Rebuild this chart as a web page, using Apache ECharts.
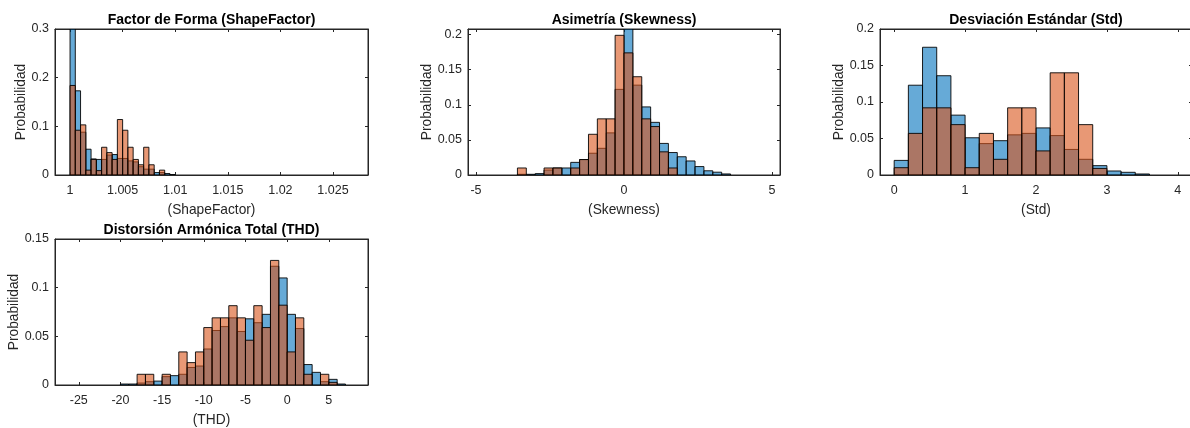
<!DOCTYPE html>
<html><head><meta charset="utf-8">
<script src="https://cdn.jsdelivr.net/npm/echarts@6/dist/echarts.min.js"></script>
<style>html,body{margin:0;padding:0;background:#fff}#c{width:1190px;height:428px}</style>
</head><body><div id="c"></div><script>
// ---------- data ----------
const titles = ['Factor de Forma (ShapeFactor)', 'Asimetría (Skewness)', 'Desviación Estándar (Std)', 'Distorsión Armónica Total (THD)'];
const xNames = ['(ShapeFactor)', '(Skewness)', '(Std)', '(THD)'];
const yName = 'Probabilidad';

const sfEdges = [1.0000,1.0005,1.0010,1.0015,1.0020,1.0025,1.0030,1.0035,1.0040,1.0045,1.0050,1.0055,1.0060,1.0065,1.0070,1.0075,1.0080,1.0085,1.0090,1.0095,1.0100];
const sfBlue   = [0.300,0.173,0.088,0.053,0.033,0.032,0.032,0.041,0.042,0.034,0.034,0.029,0.027,0.017,0.012,0.012,0.005,0.005,0.003,0.001];
const sfOrange = [0.184,0.092,0.103,0.010,0.032,0.009,0.057,0.046,0.032,0.114,0.092,0.057,0.032,0.021,0.057,0.021,0,0.010,0,0];
const sfXTicks = [1, 1.005, 1.01, 1.015, 1.02, 1.025];
const sfYTicks = [0, 0.1, 0.2, 0.3];

const skEdges = [-3.6,-3.3,-3.0,-2.7,-2.4,-2.1,-1.8,-1.5,-1.2,-0.9,-0.6,-0.3,0,0.3,0.6,0.9,1.2,1.5,1.8,2.1,2.4,2.7,3.0,3.3,3.6];
const skBlue   = [0.001,0.001,0.002,0.007,0.010,0.010,0.018,0.022,0.031,0.038,0.060,0.122,0.210,0.128,0.097,0.075,0.045,0.032,0.026,0.020,0.012,0.006,0.004,0.0015];
const skOrange = [0.010,0,0,0.010,0.010,0,0.010,0.022,0.058,0.080,0.080,0.199,0.174,0.140,0.080,0.069,0.033,0.010,0,0,0,0,0,0];
const skXTicks = [-5, 0, 5];
const skYTicks = [0, 0.05, 0.1, 0.15, 0.2];

const stdEdges = [0,0.2,0.4,0.6,0.8,1.0,1.2,1.4,1.6,1.8,2.0,2.2,2.4,2.6,2.8,3.0,3.2,3.4,3.6];
const stdBlue   = [0.020,0.123,0.175,0.136,0.082,0.051,0.043,0.047,0.055,0.057,0.0645,0.054,0.035,0.0215,0.0128,0.0055,0.0037,0.0014];
const stdOrange = [0.010,0.057,0.092,0.092,0.069,0.010,0.057,0.0215,0.092,0.092,0.033,0.140,0.140,0.069,0.009,0,0,0];
const stdXTicks = [0, 1, 2, 3, 4];
const stdYTicks = [0, 0.05, 0.1, 0.15, 0.2];

const thdEdges = [-20,-19,-18,-17,-16,-15,-14,-13,-12,-11,-10,-9,-8,-7,-6,-5,-4,-3,-2,-1,0,1,2,3,4,5,6,7];
const thdBlue   = [0.001,0.001,0.002,0.0034,0.004,0.0086,0.0096,0.011,0.018,0.0195,0.037,0.056,0.060,0.069,0.055,0.068,0.064,0.0726,0.122,0.110,0.0726,0.058,0.021,0.013,0.0034,0.0058,0.001];
const thdOrange = [0,0,0.011,0.011,0,0.011,0,0.034,0.023,0.034,0.059,0.069,0.069,0.0815,0.069,0.046,0.0815,0.059,0.128,0.082,0.034,0.069,0.011,0,0.011,0.0027,0];
const thdXTicks = [-25, -20, -15, -10, -5, 0, 5];
const thdYTicks = [0, 0.05, 0.1, 0.15];

// ---------- layout / style ----------
const FONT = "'Liberation Sans', Arial, Helvetica, sans-serif";
const AX = '#262626';
const BLUE = 'rgba(0,114,189,0.6)';
const ORANGE = 'rgba(217,83,25,0.6)';

const panels = [
  {grid:{left:55, top:29, width:313, height:146}, xMin:0.99857, xMax:1.02833, xTicks:sfXTicks, yMax:0.3, yTicks:sfYTicks, edges:sfEdges, blue:sfBlue, orange:sfOrange, yGap:22},
  {grid:{left:468, top:29, width:312, height:146}, xMin:-5.27, xMax:5.27, xTicks:skXTicks, yMax:0.208, yTicks:skYTicks, edges:skEdges, blue:skBlue, orange:skOrange, yGap:32},
  {grid:{left:880, top:29, width:312, height:146}, xMin:-0.2, xMax:4.2, xTicks:stdXTicks, yMax:0.2, yTicks:stdYTicks, edges:stdEdges, blue:stdBlue, orange:stdOrange, yGap:31},
  {grid:{left:55, top:239, width:313, height:146}, xMin:-27.85, xMax:9.7, xTicks:thdXTicks, yMax:0.15, yTicks:thdYTicks, edges:thdEdges, blue:thdBlue, orange:thdOrange, yGap:31}
];

const grids = [], xAxes = [], yAxes = [], series = [], graphics = [];
const line = {show:true, onZero:false, lineStyle:{color:AX, width:1}};

function hist(edges, values, color, xi, yi) {
  return {
    type:'custom', xAxisIndex:xi, yAxisIndex:yi, silent:true, clip:true,
    encode:{x:[0,1], y:2},
    data: values.map((v,i) => [edges[i], edges[i+1], v]),
    renderItem(params, api) {
      const y = api.value(2);
      if (!(y > 0)) return null;
      const p0 = api.coord([api.value(0), 0]);
      const p1 = api.coord([api.value(1), y]);
      const top = Math.max(p1[1], params.coordSys.y);
      return {type:'rect', shape:{x:p0[0], y:top, width:p1[0]-p0[0], height:p0[1]-top},
        style:{fill:color, stroke:'rgba(0,0,0,0.88)', lineWidth:1}};
    }
  };
}

panels.forEach((p, i) => {
  grids.push(Object.assign({show:true, borderColor:AX, borderWidth:1, backgroundColor:'#fff', containLabel:false, outerBoundsMode:'none'}, p.grid));
  xAxes.push({gridIndex:i, type:'value', min:p.xMin, max:p.xMax, position:'bottom',
    name:xNames[i], nameLocation:'middle', nameGap:28,
    nameTextStyle:{fontFamily:FONT, fontSize:13.75, color:AX},
    axisLine:line, splitLine:{show:false},
    axisTick:{show:true, inside:true, length:3, customValues:p.xTicks, lineStyle:{color:AX}},
    axisLabel:{show:true, customValues:p.xTicks, margin:9, fontFamily:FONT, fontSize:12.5, color:AX, formatter:v => String(v)}});
  xAxes.push({gridIndex:i, type:'value', min:p.xMin, max:p.xMax, position:'top',
    axisLine:line, splitLine:{show:false},
    axisTick:{show:true, inside:true, length:3, customValues:p.xTicks, lineStyle:{color:AX}},
    axisLabel:{show:false}});
  yAxes.push({gridIndex:i, type:'value', min:0, max:p.yMax, position:'left',
    name:yName, nameLocation:'middle', nameGap:p.yGap,
    nameTextStyle:{fontFamily:FONT, fontSize:13.75, color:AX},
    axisLine:line, splitLine:{show:false},
    axisTick:{show:true, inside:true, length:3, customValues:p.yTicks, lineStyle:{color:AX}},
    axisLabel:{show:true, customValues:p.yTicks, margin:6, fontFamily:FONT, fontSize:12.5, color:AX, formatter:v => String(v)}});
  yAxes.push({gridIndex:i, type:'value', min:0, max:p.yMax, position:'right',
    axisLine:line, splitLine:{show:false},
    axisTick:{show:true, inside:true, length:3, customValues:p.yTicks, lineStyle:{color:AX}},
    axisLabel:{show:false}});
  series.push(hist(p.edges, p.blue, BLUE, 2*i, 2*i));
  series.push(hist(p.edges, p.orange, ORANGE, 2*i, 2*i));
  graphics.push({type:'text', x:p.grid.left + p.grid.width/2, y:p.grid.top - 9, silent:true,
    style:{text:titles[i], fill:'#000', font:"bold 14px " + FONT, textAlign:'center', textVerticalAlign:'middle'}});
});

const chart = echarts.init(document.getElementById('c'), null, {renderer:'canvas'});
chart.setOption({animation:false, backgroundColor:'#fff', grid:grids, xAxis:xAxes, yAxis:yAxes, series, graphic:graphics});
</script></body></html>
